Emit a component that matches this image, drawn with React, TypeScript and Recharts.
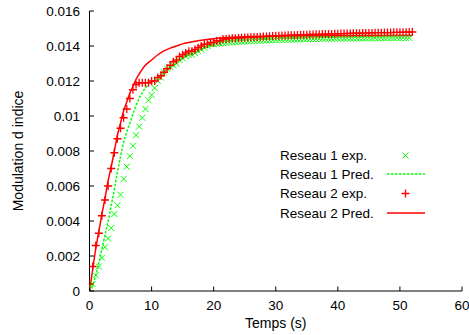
import React from "react";
import {
  ComposedChart,
  Line,
  Scatter,
  XAxis,
  YAxis,
  Legend,
} from "recharts";

// experimental samples, one every 0.5 s
const expTimes = [
  0, 0.5, 1, 1.5, 2, 2.5, 3, 3.5, 4, 4.5,
  5, 5.5, 6, 6.5, 7, 7.5, 8, 8.5, 9, 9.5,
  10, 10.5, 11, 11.5, 12, 12.5, 13, 13.5, 14, 14.5,
  15, 15.5, 16, 16.5, 17, 17.5, 18, 18.5, 19, 19.5,
  20, 20.5, 21, 21.5, 22, 22.5, 23, 23.5, 24, 24.5,
  25, 25.5, 26, 26.5, 27, 27.5, 28, 28.5, 29, 29.5,
  30, 30.5, 31, 31.5, 32, 32.5, 33, 33.5, 34, 34.5,
  35, 35.5, 36, 36.5, 37, 37.5, 38, 38.5, 39, 39.5,
  40, 40.5, 41, 41.5, 42, 42.5, 43, 43.5, 44, 44.5,
  45, 45.5, 46, 46.5, 47, 47.5, 48, 48.5, 49, 49.5,
  50, 50.5, 51, 51.5, 52,
];

const reseau1Exp = [
  0.0003, 0.0004, 0.0009, 0.0014, 0.0019, 0.0025, 0.003, 0.0036, 0.0044, 0.0049,
  0.0055, 0.0064, 0.0071, 0.0077, 0.0083, 0.0089, 0.0094, 0.0099, 0.0104, 0.0109,
  0.0112, 0.0116, 0.012, 0.0122, 0.0125, 0.0127, 0.0128, 0.0129, 0.013, 0.0132,
  0.0133, 0.0134, 0.0135, 0.0135, 0.0136, 0.0137, 0.0138, 0.0139, 0.014, 0.0141,
  0.0141, 0.01412, 0.01414, 0.01416, 0.01418, 0.0142, 0.01421, 0.01422, 0.01424, 0.01425,
  0.01426, 0.01427, 0.01428, 0.01429, 0.0143, 0.0143, 0.01431, 0.01432, 0.01433, 0.01433,
  0.01434, 0.01435, 0.01435, 0.01436, 0.01436, 0.01437, 0.01437, 0.01438, 0.01438, 0.01439,
  0.01439, 0.0144, 0.0144, 0.0144, 0.01441, 0.01441, 0.01441, 0.01442, 0.01442, 0.01442,
  0.01442, 0.01443, 0.01443, 0.01443, 0.01443, 0.01443, 0.01444, 0.01444, 0.01444, 0.01444,
  0.01444, 0.01444, 0.01445, 0.01445, 0.01445, 0.01445, 0.01445, 0.01445, 0.01445, 0.01446,
  0.01446, 0.01446, 0.01446, 0.01446,
];

const reseau2Exp = [
  0.0004, 0.0014, 0.0026, 0.0033, 0.0043, 0.0052, 0.006, 0.007, 0.0079, 0.0087,
  0.0093, 0.0099, 0.0104, 0.011, 0.0115, 0.0118, 0.0119, 0.0119, 0.0119, 0.0119,
  0.012, 0.012, 0.0122, 0.0123, 0.0125, 0.0127, 0.0129, 0.0131, 0.0132, 0.0134,
  0.0135, 0.0136, 0.0137, 0.0137, 0.0138, 0.0139, 0.014, 0.0141, 0.0141, 0.0142,
  0.0142, 0.0143, 0.0143, 0.0144, 0.0144, 0.01442, 0.01444, 0.01445, 0.01446, 0.01447,
  0.01448, 0.01449, 0.0145, 0.01451, 0.01452, 0.01453, 0.01454, 0.01455, 0.01456, 0.01457,
  0.01458, 0.01459, 0.0146, 0.0146, 0.01461, 0.01462, 0.01462, 0.01463, 0.01464, 0.01464,
  0.01465, 0.01466, 0.01466, 0.01467, 0.01467, 0.01468, 0.01468, 0.01469, 0.01469, 0.0147,
  0.0147, 0.01471, 0.01471, 0.01472, 0.01472, 0.01473, 0.01473, 0.01473, 0.01474, 0.01474,
  0.01475, 0.01475, 0.01476, 0.01476, 0.01476, 0.01477, 0.01477, 0.01477, 0.01478, 0.01478,
  0.01478, 0.01479, 0.01479, 0.0148, 0.0148,
];

// model predictions
const predTimes = [
  0, 0.5, 1, 1.5, 2, 2.5, 3, 3.5, 4, 4.5, 5, 5.5, 6, 6.5, 7, 7.5, 8,
  9, 10, 11, 12, 13, 14, 15, 16, 18, 20, 22, 25, 30, 35, 40, 45, 52,
];
const reseau1Pred = [
  0, 0.0003, 0.0009, 0.0016, 0.0024, 0.0032, 0.004, 0.0049, 0.0058, 0.0068,
  0.0077, 0.0085, 0.0091, 0.0096, 0.0101, 0.0106, 0.011,
  0.0116, 0.012, 0.0122, 0.0125, 0.0128, 0.013, 0.0133, 0.0135, 0.0138,
  0.0141, 0.0143, 0.01445, 0.0145, 0.01455, 0.01458, 0.0146, 0.0146,
];
const reseau2Pred = [
  0, 0.0012, 0.0024, 0.0034, 0.0044, 0.0053, 0.0063, 0.0071, 0.008, 0.0089,
  0.0096, 0.0103, 0.0108, 0.0113, 0.0117, 0.0121, 0.0124,
  0.0129, 0.0132, 0.0135, 0.01372, 0.01388, 0.014, 0.01412, 0.0142, 0.01433,
  0.01442, 0.01448, 0.01453, 0.01457, 0.01459, 0.0146, 0.0146, 0.0146,
];

const xTicks = [0, 10, 20, 30, 40, 50, 60];
const yTicks = [0, 0.002, 0.004, 0.006, 0.008, 0.01, 0.012, 0.014, 0.016];

const GREEN = "#00ff00";
const RED = "#ff0000";
const FONT = "'Liberation Sans', Arial, sans-serif";

const r1ExpData = reseau1Exp.map((v, i) => ({ t: expTimes[i], v }));
const r2ExpData = reseau2Exp.map((v, i) => ({ t: expTimes[i], v }));
const r1PredData = reseau1Pred.map((v, i) => ({ t: predTimes[i], v }));
const r2PredData = reseau2Pred.map((v, i) => ({ t: predTimes[i], v }));

const fmtY = (v: number) => (v === 0 ? "0" : String(Number(v.toFixed(3))));

const Cross = (props: any) => {
  const { cx, cy } = props;
  const s = 3;
  return (
    <path
      d={`M${cx - s},${cy - s}L${cx + s},${cy + s}M${cx - s},${cy + s}L${cx + s},${cy - s}`}
      stroke={GREEN}
      strokeWidth={1}
      fill="none"
    />
  );
};

const Plus = (props: any) => {
  const { cx, cy } = props;
  const s = 4;
  return (
    <path
      d={`M${cx - s},${cy}L${cx + s},${cy}M${cx},${cy - s}L${cx},${cy + s}`}
      stroke={RED}
      strokeWidth={1.3}
      fill="none"
    />
  );
};

// gnuplot-style key, drawn by hand
const Key = () => {
  const rows = ["Reseau 1 exp.", "Reseau 1 Pred.", "Reseau 2 exp.", "Reseau 2 Pred."];
  const ys = [12.5, 31, 50.5, 70];
  return (
    <svg width={180} height={82} style={{ display: "block" }}>
      {rows.map((r, i) => (
        <text key={r} x={10} y={ys[i]} dy="0.35em" fontSize={13.5} fontFamily={FONT} fill="#000">
          {r}
        </text>
      ))}
      <Cross cx={135.5} cy={ys[0]} />
      <line x1={117} x2={155} y1={ys[1]} y2={ys[1]} stroke={GREEN} strokeWidth={1.5} strokeDasharray="2.5 1.5" />
      <Plus cx={135.5} cy={ys[2]} />
      <line x1={117} x2={155} y1={ys[3]} y2={ys[3]} stroke={RED} strokeWidth={1.5} />
    </svg>
  );
};

export default function App() {
  const tickStyle = { fontSize: 13.5, fontFamily: FONT, fill: "#000" };
  return (
    <div style={{ position: "absolute", left: 0, top: 0, background: "#fff" }}>
      <ComposedChart width={469} height={335} margin={{ top: 11, right: 7, bottom: 0, left: 0 }}>
        <XAxis
          type="number"
          dataKey="t"
          domain={[0, 60]}
          ticks={xTicks}
          height={44}
          tickSize={-4.5}
          tickMargin={14}
          tick={tickStyle}
          axisLine={{ stroke: "#000", strokeWidth: 1 }}
          tickLine={{ stroke: "#000" }}
          allowDataOverflow
          label={{ value: "Temps (s)", position: "insideBottom", offset: 7, style: { fontSize: 14, fontFamily: FONT, fill: "#000" } }}
        />
        <XAxis
          xAxisId="top"
          orientation="top"
          type="number"
          dataKey="t"
          domain={[0, 60]}
          ticks={xTicks}
          height={0}
          tickSize={-4.5}
          tickFormatter={() => ""}
          axisLine={{ stroke: "#000", strokeWidth: 1 }}
          tickLine={{ stroke: "#000" }}
        />
        <YAxis
          type="number"
          domain={[0, 0.016]}
          ticks={yTicks}
          width={89.5}
          tickSize={-4.5}
          tickMargin={14}
          tick={tickStyle}
          tickFormatter={fmtY}
          axisLine={{ stroke: "#000", strokeWidth: 1 }}
          tickLine={{ stroke: "#000" }}
          allowDataOverflow
          label={{
            value: "Modulation d indice",
            angle: -90,
            position: "insideLeft",
            offset: 18,
            style: { textAnchor: "middle", fontSize: 14, fontFamily: FONT, fill: "#000" },
          }}
        />
        <YAxis
          yAxisId="right"
          orientation="right"
          type="number"
          domain={[0, 0.016]}
          ticks={yTicks}
          width={0}
          tickSize={-4.5}
          tickFormatter={() => ""}
          axisLine={{ stroke: "#000", strokeWidth: 1 }}
          tickLine={{ stroke: "#000" }}
        />
        <Scatter name="Reseau 1 exp." data={r1ExpData} dataKey="v" shape={Cross} isAnimationActive={false} />
        <Line
          name="Reseau 1 Pred."
          data={r1PredData}
          dataKey="v"
          type="monotone"
          stroke={GREEN}
          strokeWidth={1.5}
          strokeDasharray="2.5 1.5"
          dot={false}
          activeDot={false}
          isAnimationActive={false}
        />
        <Scatter name="Reseau 2 exp." data={r2ExpData} dataKey="v" shape={Plus} isAnimationActive={false} />
        <Line
          name="Reseau 2 Pred."
          data={r2PredData}
          dataKey="v"
          type="monotone"
          stroke={RED}
          strokeWidth={1.5}
          dot={false}
          activeDot={false}
          isAnimationActive={false}
        />
        <Legend
          layout="vertical"
          align="center"
          verticalAlign="middle"
          content={() => <Key />}
          wrapperStyle={{ left: 270, top: 143, width: 180, height: 82 }}
        />
      </ComposedChart>
    </div>
  );
}
